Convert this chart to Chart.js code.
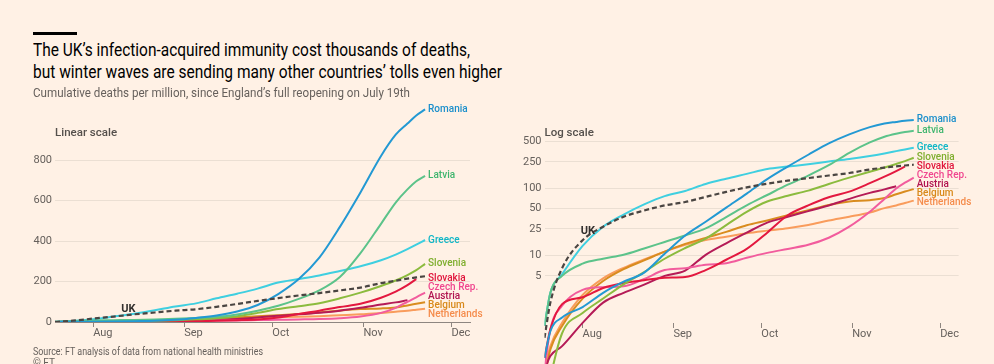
<!DOCTYPE html>
<html>
<head>
<meta charset="utf-8">
<script src="https://cdn.jsdelivr.net/npm/chart.js@4.4.1/dist/chart.umd.min.js"></script>
<style>
  html, body { margin:0; padding:0; background:#fff1e5; width:994px; height:364px; overflow:hidden; font-family: Roboto, "Noto Sans", sans-serif; }
  .abs { position:absolute; white-space:nowrap; transform-origin:0 0; }
  #bar { left:33px; top:32px; width:44px; height:3px; background:#000; }
  .title { left:33px; font-size:17.5px; line-height:22px; color:#000; }
  .sub { left:33px; font-size:12px; line-height:14px; color:#66605c; }
  .src { left:33px; font-size:10px; line-height:11px; color:#66605c; }
  canvas { display:block; }
</style>
</head>
<body>
<div id="wrapL" class="abs" style="left:0;top:96px;width:490px;height:268px"><canvas id="cL" width="490" height="268"></canvas></div>
<div id="wrapR" class="abs" style="left:490px;top:96px;width:504px;height:268px"><canvas id="cR" width="504" height="268"></canvas></div>
<div id="bar" class="abs"></div>
<div class="abs title fit" data-w="437" style="top:39px">The UK’s infection-acquired immunity cost thousands of deaths,</div>
<div class="abs title fit" data-w="469" style="top:61px">but winter waves are sending many other countries’ tolls even higher</div>
<div class="abs sub fit" data-w="377" style="top:86px">Cumulative deaths per million, since England’s full reopening on July 19th</div>
<div class="abs src fit" data-w="230" style="top:346px">Source: FT analysis of data from national health ministries</div>
<div class="abs src" style="top:357px">© FT</div>

<script>
// ---------- DATA (days since July 19th; cumulative deaths per million) ----------
const days = [0, 2, 6, 13, 20, 27, 34, 41, 48, 55, 62, 69, 76, 83, 90, 97, 104, 111, 116, 120, 123, 126];
const monthTickDays = [13, 44, 74, 105, 135];
const monthLabels = ['Aug', 'Sep', 'Oct', 'Nov', 'Dec'];
const linearTicks = [0, 200, 400, 600, 800];
const logTicks = [5, 10, 25, 50, 100, 250, 500];

const uk          = [0.6, 2.0, 6.5, 17, 27, 38, 47, 56, 63, 75, 89, 104, 118, 131, 143, 156, 170, 192, 204, 214, 220, 226];
const romania     = [0.3, 0.75, 1.2, 1.72, 2.8, 4.1, 5.6, 10.7, 20, 32, 52, 84, 138, 212, 318, 470, 640, 820, 925, 980, 1020, 1050];
const latvia      = [0.9, 2.8, 5.0, 7.6, 9, 10.3, 12.8, 16, 20, 25.5, 37.5, 56, 80, 114, 156, 222, 340, 485, 590, 655, 695, 722];
const greece      = [0.9, 2.8, 5.3, 14, 27, 41, 58, 77, 92, 117, 140, 165, 195, 212, 230, 252, 275, 305, 333, 360, 382, 405];
const slovenia    = [0.05, 0.15, 0.7, 1.4, 2.3, 3.75, 5.7, 9, 13, 18, 28.5, 45, 64, 78, 93, 117, 145, 178, 205, 232, 256, 287];
const slovakia    = [0.3, 0.8, 1.9, 2.4, 3.3, 3.9, 4.3, 4.7, 4.8, 6.1, 8.7, 12.6, 22, 40, 56, 74, 90, 120, 150, 182, 212, null];
const czech       = [0.2, 0.8, 1.8, 3.1, 3.4, 3.5, 4.5, 6.1, 6.5, 7.3, 7.7, 9.3, 11, 12.6, 14.5, 18.5, 27, 45, 70, 100, 122, 145];
const austria     = [0.2, 0.32, 0.45, 1.0, 2.0, 2.8, 3.7, 5.0, 6.0, 10.3, 15.3, 22, 31, 38, 46, 56, 70, 86, 97, 108, null, null];
const belgium     = [0.15, 0.4, 0.9, 2.3, 4.2, 6.3, 8.5, 11.5, 15, 18.4, 22.6, 28.4, 33.5, 40, 47.5, 57, 64, 67, 72, 82, 90, 98];
const netherlands = [0.2, 0.45, 1.0, 2.6, 4.6, 6.6, 8.8, 11.5, 14.5, 17.1, 19.2, 21.6, 23.6, 25.6, 28.6, 33.3, 38, 44, 51, 56, 61, 66];

const countries = ['Romania', 'Latvia', 'Greece', 'Slovenia', 'Slovakia', 'Czech Rep.', 'Austria', 'Belgium', 'Netherlands'];
const countryValues = [romania, latvia, greece, slovenia, slovakia, czech, austria, belgium, netherlands];

// ---------- STYLE ----------
const lineColors = ['#2399d3', '#5cc38a', '#3fcfe0', '#8cbb3e', '#e3183f', '#f25c9d', '#b51b57', '#d98c1f', '#f99c5c'];
const textColors = ['#1b8fcb', '#3fb56e', '#10b6c6', '#7fae2e', '#e0143b', '#f0468f', '#b0134f', '#d8891a', '#f58c4c'];
const ukColor = '#4a4542';
const gridColor = '#ebdfd3';
const axisColor = '#8e8680';
const tickColor = '#66605c';
Chart.defaults.font.family = 'Roboto, "Noto Sans", sans-serif';

function toPoints(vals) {
  const pts = [];
  vals.forEach((v, i) => { if (v != null) pts.push({ x: days[i], y: v }); });
  return pts;
}
function interp(vals, d) {
  for (let i = 0; i < days.length - 1; i++) {
    if (d >= days[i] && d <= days[i + 1]) {
      const t = (d - days[i]) / (days[i + 1] - days[i]);
      return vals[i] + t * (vals[i + 1] - vals[i]);
    }
  }
  return vals[vals.length - 1];
}
function buildDatasets() {
  const ds = [{
    label: 'UK', data: toPoints(uk), borderColor: ukColor, borderWidth: 2.2, borderDash: [5, 3],
    pointRadius: 0, cubicInterpolationMode: 'monotone', fill: false, endLabel: false
  }];
  countries.forEach((c, i) => ds.push({
    label: c, data: toPoints(countryValues[i]), borderColor: lineColors[i], labelColor: textColors[i],
    borderWidth: 2, pointRadius: 0, cubicInterpolationMode: 'monotone', fill: false, endLabel: true
  }));
  return ds;
}

const annotatePlugin = {
  id: 'annot',
  afterDatasetsDraw(chart, args, o) {
    const ctx = chart.ctx, xs = chart.scales.x, ys = chart.scales.y;
    ctx.save();
    ctx.font = '500 11.5px Roboto, sans-serif';
    ctx.fillStyle = '#55504c';
    ctx.textBaseline = 'middle';
    ctx.textAlign = 'left';
    ctx.fillText(o.heading, chart.chartArea.left, o.headingY);
    ctx.font = 'bold 11px Roboto, sans-serif';
    ctx.fillStyle = '#33302e';
    ctx.textAlign = 'center';
    ctx.fillText('UK', xs.getPixelForValue(o.ukDay), ys.getPixelForValue(interp(uk, o.ukDay)) - o.ukDy);
    const items = [];
    chart.data.datasets.forEach(ds => {
      if (!ds.endLabel) return;
      const last = ds.data[ds.data.length - 1];
      items.push({ text: ds.label, color: ds.labelColor, want: ys.getPixelForValue(last.y) });
    });
    items.sort((a, b) => a.want - b.want);
    const gap = o.gap;
    let clusters = items.map(it => ({ items: [it] }));
    const topOf = c => c.items.reduce((s, it, k) => s + it.want - k * gap, 0) / c.items.length;
    let merged = true;
    while (merged) {
      merged = false;
      for (let i = 0; i < clusters.length - 1; i++) {
        const a = clusters[i], b = clusters[i + 1];
        const aEnd = topOf(a) + (a.items.length - 1) * gap;
        if (topOf(b) - aEnd < gap) {
          clusters.splice(i, 2, { items: a.items.concat(b.items) });
          merged = true; break;
        }
      }
    }
    ctx.font = '500 10px Roboto, sans-serif';
    ctx.textAlign = 'left';
    const lx = xs.getPixelForValue(days[days.length - 1]) + 3;
    clusters.forEach(c => {
      const t = topOf(c);
      c.items.forEach((it, k) => {
        ctx.fillStyle = it.color;
        ctx.fillText(it.text, lx, t + k * gap);
      });
    });
    ctx.restore();
  }
};

function zeroPad(s) { s.paddingTop = 0; s.paddingBottom = 0; s.paddingLeft = 0; s.paddingRight = 0; }

function makeOptions(isLog) {
  return {
    responsive: false, animation: false, devicePixelRatio: 1,
    layout: { padding: { top: isLog ? 13.5 : 11.4, right: isLog ? 35.4 : 20, bottom: 0, left: 0 } },
    plugins: {
      legend: { display: false }, tooltip: { enabled: false }, title: { display: false },
      annot: isLog
        ? { heading: 'Log scale', headingY: 37, ukDay: 14.8, ukDy: 4.5, gap: 9 }
        : { heading: 'Linear scale', headingY: 37.5, ukDay: 25, ukDy: 6, gap: 9 }
    },
    scales: {
      x: {
        type: 'linear', min: 0, max: 141.3,
        position: isLog ? { y: 1 } : 'bottom',
        afterBuildTicks: s => { s.ticks = monthTickDays.map(v => ({ value: v })); },
        afterFit: s => { s.height = isLog ? 0 : 42; zeroPad(s); },
        grid: { display: true, drawOnChartArea: false, drawTicks: true, tickLength: 5, color: axisColor, lineWidth: 1 },
        border: { display: !isLog, color: axisColor, width: 1 },
        ticks: { autoSkip: false, maxRotation: 0, minRotation: 0, align: 'start', padding: 0, color: tickColor,
                 font: { size: 11 }, callback: (v, i) => monthLabels[i] }
      },
      y: {
        type: isLog ? 'logarithmic' : 'linear',
        min: isLog ? 0.244 : 0, max: isLog ? 1500 : 1060,
        afterBuildTicks: s => { s.ticks = (isLog ? logTicks : linearTicks).map(v => ({ value: v })); },
        afterFit: s => { s.width = isLog ? 54.5 : 55; zeroPad(s); },
        grid: { color: gridColor, drawTicks: false, lineWidth: 1 },
        border: { display: false },
        ticks: { padding: 3, color: tickColor, font: { size: 11 }, callback: v => String(v) }
      }
    }
  };
}

new Chart(document.getElementById('cL'), { type: 'line', data: { datasets: buildDatasets() }, options: makeOptions(false), plugins: [annotatePlugin] });
new Chart(document.getElementById('cR'), { type: 'line', data: { datasets: buildDatasets() }, options: makeOptions(true), plugins: [annotatePlugin] });

function fitText() {
  document.querySelectorAll('.fit').forEach(el => {
    el.style.transform = 'none';
    const w = el.getBoundingClientRect().width;
    el.style.transform = 'scaleX(' + (+el.dataset.w / w) + ')';
  });
}
fitText();
if (document.fonts && document.fonts.ready) document.fonts.ready.then(fitText);
</script>
</body>
</html>
